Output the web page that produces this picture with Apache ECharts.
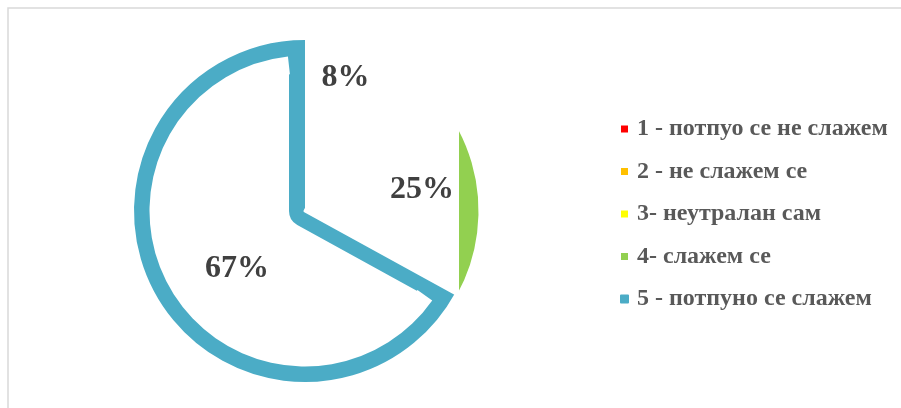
<!DOCTYPE html>
<html>
<head>
<meta charset="utf-8">
<script src="https://cdn.jsdelivr.net/npm/echarts@6/dist/echarts.min.js"></script>
<style>
  html, body { margin: 0; padding: 0; background: #fff; }
  #chart { width: 901px; height: 408px; }
</style>
</head>
<body>
<div id="chart"></div>
<script>
// ---- data ----
const categories = [
  '1 - потпуо се не слажем',
  '2 - не слажем се',
  '3- неутралан сам',
  '4- слажем се',
  '5 - потпуно се слажем'
];
const values = [0, 0, 8, 25, 67];
const colors = ['#FF0000', '#FFC000', '#FFFF00', '#92D050', '#4BACC6'];

// ---- chart ----
const chart = echarts.init(document.getElementById('chart'), null, { renderer: 'canvas' });

const center = [305, 211];
const labelOffsets = [[0, 0], [0, 0], [18, -46], [30, 4], [10, 12]];
const labelFont = {
  fontFamily: 'Liberation Serif',
  fontWeight: 'bold',
  fontSize: 32,
  color: '#404040'
};

const greenFill = {
  type: 'linear', x: 458, y: 0, x2: 460, y2: 0, global: true,
  colorStops: [
    { offset: 0, color: '#ffffff' },
    { offset: 0.5, color: '#ffffff' },
    { offset: 0.5, color: colors[3] },
    { offset: 1, color: colors[3] }
  ]
};

// angular range of the last slice (derived from the values)
const total = values.reduce((a, b) => a + b, 0);
const before = values.slice(0, 4).reduce((a, b) => a + b, 0);
const lastStart = 90 - 360 * before / total;   // echarts degrees
const lastEnd = 90 - 360;
const trim = 6.3; // keeps the inner ring mask off the straight edges

// bottom layer: the "5" slice drawn as a thick outline
const dataA = categories.map((name, i) => ({
  name,
  value: values[i],
  itemStyle: i === 4
    ? { color: '#ffffff', borderColor: colors[4], borderWidth: 32 }
    : { color: 'rgba(0,0,0,0)', borderWidth: 0 }
}));

// inner ring mask: thins the arc part of the outline
const dataC = [{
  name: categories[4],
  value: values[4],
  itemStyle: { color: '#ffffff', borderWidth: 0 }
}];

// top layer: the other slices (mask) and all labels
const dataB = categories.map((name, i) => {
  let itemStyle;
  if (i === 4) itemStyle = { color: 'rgba(0,0,0,0)', borderWidth: 0 };
  else if (i === 3) itemStyle = { color: greenFill, borderColor: '#ffffff', borderWidth: 3 };
  else itemStyle = { color: '#ffffff', borderWidth: 0 };
  return {
    name,
    value: values[i],
    itemStyle,
    label: Object.assign({
      show: values[i] > 0,
      position: 'inside',
      offset: labelOffsets[i],
      formatter: '{d}%'
    }, labelFont)
  };
});

const option = {
  backgroundColor: '#ffffff',
  animation: false,
  graphic: [{
    type: 'rect',
    shape: { x: 8, y: 8, width: 1000, height: 1000 },
    style: { fill: 'none', stroke: '#d9d9d9', lineWidth: 1.5 },
    silent: true
  }],
  legend: {
    orient: 'vertical',
    left: 615,
    top: 112,
    icon: 'rect',
    itemWidth: 7,
    itemHeight: 7,
    itemGap: 18.5,
    selectedMode: false,
    data: categories.map((name, i) => ({ name, itemStyle: { color: colors[i] } })),
    textStyle: {
      fontFamily: 'Liberation Serif',
      fontWeight: 'bold',
      fontSize: 24,
      lineHeight: 24,
      color: '#595959',
      padding: [0, 0, 0, 4]
    }
  },
  series: [
    {
      type: 'pie',
      center,
      radius: 155,
      startAngle: 90,
      clockwise: true,
      silent: true,
      z: 1,
      label: { show: false },
      labelLine: { show: false },
      emphasis: { disabled: true },
      data: dataA
    },
    {
      type: 'pie',
      center,
      radius: [137.5, 155.5],
      startAngle: lastStart - trim,
      endAngle: lastEnd + trim,
      clockwise: true,
      silent: true,
      z: 1.5,
      label: { show: false },
      labelLine: { show: false },
      emphasis: { disabled: true },
      data: dataC
    },
    {
      type: 'pie',
      center,
      radius: 175,
      startAngle: 90,
      clockwise: true,
      silent: true,
      z: 2,
      labelLine: { show: false },
      emphasis: { disabled: true },
      data: dataB
    }
  ]
};

chart.setOption(option);
</script>
</body>
</html>
